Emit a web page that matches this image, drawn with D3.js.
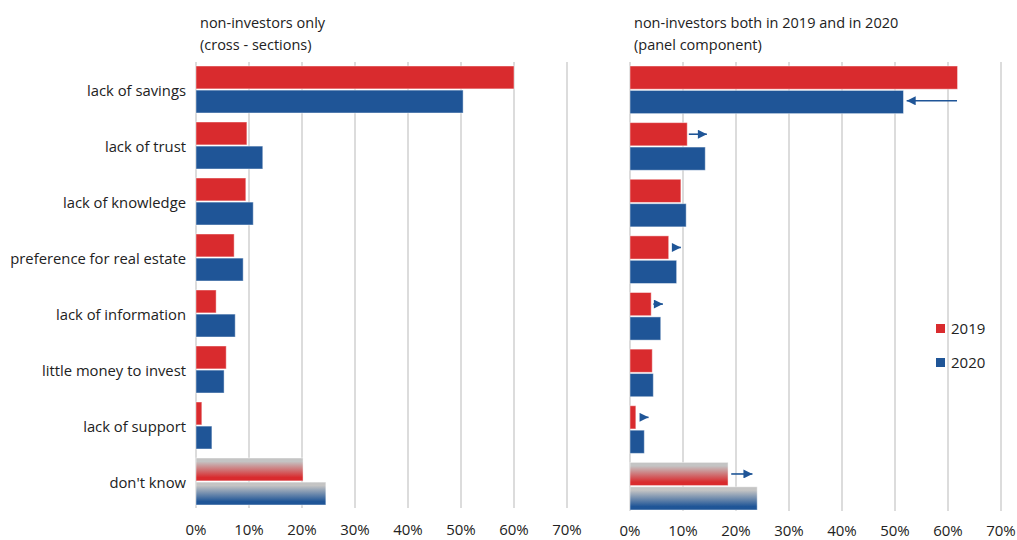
<!DOCTYPE html>
<html><head><meta charset="utf-8">
<script src="https://cdn.jsdelivr.net/npm/d3@7"></script>
<style>body{margin:0;background:#fff}svg{display:block;font-family:"Open Sans",sans-serif}</style>
</head><body><svg id="c" width="1017" height="540"></svg>
<script>
const categories = ["lack of savings","lack of trust","lack of knowledge","preference for real estate","lack of information","little money to invest","lack of support","don't know"];
const series = ["2019","2020"];
const left2019 = [60.0, 9.6, 9.4, 7.2, 3.8, 5.7, 1.1, 20.2];
const left2020 = [50.4, 12.6, 10.8, 8.9, 7.4, 5.3, 3.0, 24.5];
const right2019 = [61.8, 10.8, 9.6, 7.3, 4.0, 4.2, 1.1, 18.5];
const right2020 = [51.6, 14.2, 10.6, 8.8, 5.8, 4.4, 2.7, 24.0];
const arrowCats = ["lack of savings","lack of trust","preference for real estate","lack of information","lack of support","don't know"];
const arrowFrom = [61.7, 11.1, 8.0, 4.4, 1.9, 19.1];
const arrowTo   = [52.2, 14.5, 9.6, 6.2, 3.5, 23.1];
const ticks = [0,10,20,30,40,50,60,70];
const leftTitle = ["non-investors only","(cross - sections)"];
const rightTitle = ["non-investors both in 2019 and in 2020","(panel component)"];

const colors = {"2019":"#d92b2e","2020":"#1f5597"};
const svg = d3.select("#c");
const defs = svg.append("defs");
series.forEach(s=>{
  const g = defs.append("linearGradient").attr("id","g"+s).attr("x1",0).attr("x2",0).attr("y1",0).attr("y2",1);
  g.append("stop").attr("offset","0%").attr("stop-color","#c4c4c4");
  g.append("stop").attr("offset","15%").attr("stop-color","#c4c4c4");
  g.append("stop").attr("offset","85%").attr("stop-color",colors[s]);
  g.append("stop").attr("offset","100%").attr("stop-color",colors[s]);
});
const mk = defs.append("marker").attr("id","ah").attr("viewBox","0 0 10 10").attr("refX",10).attr("refY",5)
  .attr("markerWidth",10).attr("markerHeight",9).attr("markerUnits","userSpaceOnUse").attr("orient","auto");
mk.append("path").attr("d","M0,0L10,5L0,10Z").attr("fill","#1f5597");

function panel(x0, yRange, gridBottom, tickY, v19, v20, title, withArrows){
  const x = d3.scaleLinear().domain([0,70]).range([x0, x0+371]);
  const y = d3.scaleBand().domain(categories).range(yRange);
  const ys = d3.scaleBand().domain(series).range([4, y.bandwidth()-5]).paddingInner(0.05);
  const g = svg.append("g");
  g.selectAll("line.grid").data(ticks).join("line")
    .attr("x1",d=>x(d)).attr("x2",d=>x(d)).attr("y1",62).attr("y2",gridBottom)
    .attr("stroke","#d0d0d0").attr("stroke-width",1.5);
  g.selectAll("text.tick").data(ticks).join("text")
    .attr("x",d=>x(d)).attr("y",tickY).attr("text-anchor","middle")
    .attr("font-size",15).attr("fill","#222").text(d=>d+"%");
  const vals = {"2019":v19,"2020":v20};
  series.forEach(s=>{
    g.selectAll("rect.b"+s).data(categories).join("rect")
      .attr("x",x(0)).attr("y",c=>y(c)+ys(s))
      .attr("width",(c,i)=>x(vals[s][i])-x(0)).attr("height",ys.bandwidth())
      .attr("fill",(c,i)=> c==="don't know" ? "url(#g"+s+")" : colors[s])
      .attr("stroke","#ffffff").attr("stroke-opacity",0.45).attr("stroke-width",1);
  });
  g.selectAll("text.title").data(title).join("text")
    .attr("x",x0+4).attr("y",(d,i)=>28+i*22).attr("font-size",14.5).attr("fill","#222").text(d=>d);
  if(withArrows){
    g.selectAll("line.arrow").data(arrowCats).join("line")
      .attr("x1",(c,i)=>x(arrowFrom[i])).attr("x2",(c,i)=>x(arrowTo[i]))
      .attr("y1",c=>y(c)+ys("2019")+ys.bandwidth()*0.5 + (c==="lack of savings"?ys.bandwidth()*1.0:0))
      .attr("y2",c=>y(c)+ys("2019")+ys.bandwidth()*0.5 + (c==="lack of savings"?ys.bandwidth()*1.0:0))
      .attr("stroke","#1f5597").attr("stroke-width",1.6).attr("marker-end","url(#ah)");
  }
  return {x,y};
}
const L = panel(196,[62,510],508,535,left2019,left2020,leftTitle,false);
panel(630,[62,515],511,536,right2019,right2020,rightTitle,true);

svg.append("g").selectAll("text").data(categories).join("text")
  .attr("x",186).attr("y",c=>L.y(c)+L.y.bandwidth()/2+1).attr("dy","0.35em")
  .attr("text-anchor","end").attr("font-size",14.8).attr("fill","#222").text(d=>d);

const lg = svg.append("g");
lg.selectAll("rect").data(series).join("rect")
  .attr("x",936).attr("y",(d,i)=>324+i*34).attr("width",9).attr("height",9).attr("fill",d=>colors[d]);
lg.selectAll("text").data(series).join("text")
  .attr("x",951).attr("y",(d,i)=>329+i*34).attr("dy","0.35em").attr("font-size",15).attr("fill","#222").text(d=>d);
</script></body></html>
